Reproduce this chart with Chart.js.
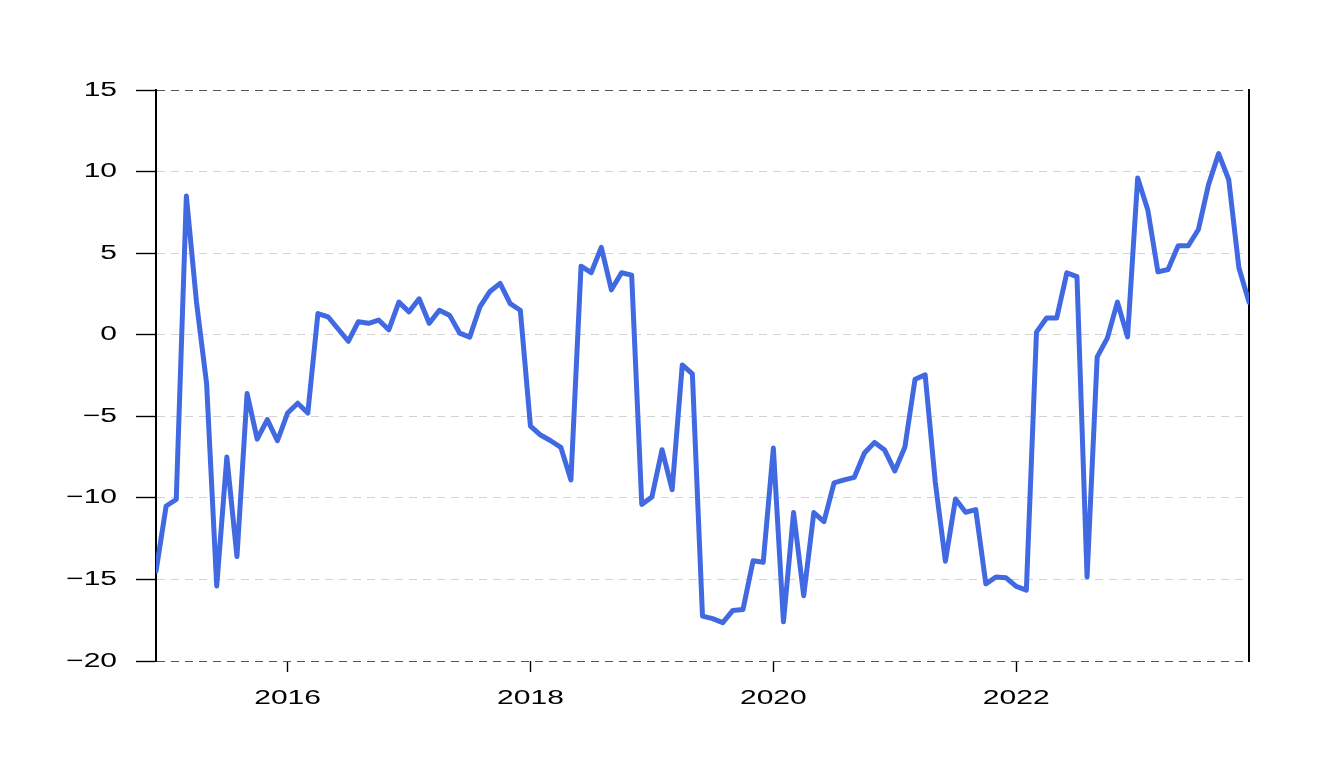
<!DOCTYPE html>
<html>
<head>
<meta charset="utf-8">
<script src="https://cdn.jsdelivr.net/npm/chart.js@4.4.0/dist/chart.umd.min.js"></script>
<style>
  html, body { margin: 0; padding: 0; background: #ffffff; }
  #wrap { width: 1329px; height: 775px; }
</style>
</head>
<body>
<div id="wrap"><canvas id="c" width="1329" height="775"></canvas></div>
<script>
// ---- data (monthly, Dec 2014 .. Dec 2023) ----
const months = [
  "2014-12",
  "2015-01","2015-02","2015-03","2015-04","2015-05","2015-06","2015-07","2015-08","2015-09","2015-10","2015-11","2015-12",
  "2016-01","2016-02","2016-03","2016-04","2016-05","2016-06","2016-07","2016-08","2016-09","2016-10","2016-11","2016-12",
  "2017-01","2017-02","2017-03","2017-04","2017-05","2017-06","2017-07","2017-08","2017-09","2017-10","2017-11","2017-12",
  "2018-01","2018-02","2018-03","2018-04","2018-05","2018-06","2018-07","2018-08","2018-09","2018-10","2018-11","2018-12",
  "2019-01","2019-02","2019-03","2019-04","2019-05","2019-06","2019-07","2019-08","2019-09","2019-10","2019-11","2019-12",
  "2020-01","2020-02","2020-03","2020-04","2020-05","2020-06","2020-07","2020-08","2020-09","2020-10","2020-11","2020-12",
  "2021-01","2021-02","2021-03","2021-04","2021-05","2021-06","2021-07","2021-08","2021-09","2021-10","2021-11","2021-12",
  "2022-01","2022-02","2022-03","2022-04","2022-05","2022-06","2022-07","2022-08","2022-09","2022-10","2022-11","2022-12",
  "2023-01","2023-02","2023-03","2023-04","2023-05","2023-06","2023-07","2023-08","2023-09","2023-10","2023-11","2023-12"
];
const values = [
  -14.5,
  -10.5, -10.1, 8.5, 2.0, -3.0, -15.4, -7.5, -13.6, -3.6, -6.4, -5.2, -6.5,
  -4.8, -4.2, -4.8, 1.3, 1.1, 0.35, -0.4, 0.8, 0.7, 0.9, 0.3, 2.0,
  1.4, 2.2, 0.7, 1.5, 1.2, 0.1, -0.15, 1.7, 2.65, 3.15, 1.9, 1.5,
  -5.6, -6.15, -6.5, -6.9, -8.9, 4.2, 3.8, 5.35, 2.75, 3.8, 3.65, -10.4,
  -9.95, -7.05, -9.5, -1.85, -2.4, -17.25, -17.4, -17.65, -16.9, -16.85, -13.85, -13.95,
  -6.95, -17.6, -10.9, -16.0, -10.9, -11.45, -9.08, -8.9, -8.74, -7.25, -6.6, -7.07,
  -8.35, -6.88, -2.73, -2.46, -9.03, -13.88, -10.07, -10.88, -10.72, -15.27, -14.85, -14.9,
  -15.43, -15.66, 0.16, 1.02, 1.02, 3.79, 3.56, -14.85, -1.36, -0.21, 2.0, -0.13,
  9.6, 7.65, 3.85, 4.0, 5.45, 5.45, 6.45, 9.2, 11.1, 9.5, 4.1, 2.0
];
const yTickValues = [-20, -15, -10, -5, 0, 5, 10, 15];
const xTickYears = [2016, 2018, 2020, 2022];

// ---- helpers ----
function monthToYear(s) {
  const [y, m] = s.split("-").map(Number);
  return y + (m - 1) / 12;
}
const points = months.map((m, i) => ({ x: monthToYear(m), y: values[i] }));
const xMin = monthToYear(months[0]);
const xMax = monthToYear(months[months.length - 1]);

const LABEL_FONT = { family: "'Liberation Sans', Arial, sans-serif", size: 20 };
const TEXT_STRETCH = 1.5;

// labels in the reference are drawn horizontally stretched
const stretchTextPlugin = {
  id: 'stretchText',
  beforeDraw(chart) {
    const ctx = chart.ctx;
    if (ctx.__stretched) return;
    const orig = ctx.fillText.bind(ctx);
    ctx.fillText = function (t, x, y) {
      ctx.save();
      ctx.translate(x, y);
      ctx.scale(TEXT_STRETCH, 1);
      orig(t, 0, 0);
      ctx.restore();
    };
    ctx.__stretched = true;
  }
};

new Chart(document.getElementById('c'), {
  type: 'line',
  data: {
    datasets: [{
      data: points,
      borderColor: '#4169E1',
      borderWidth: 5,
      pointRadius: 0,
      tension: 0,
      borderJoinStyle: 'round',
      borderCapStyle: 'round',
      fill: false
    }]
  },
  options: {
    responsive: false,
    animation: false,
    devicePixelRatio: 1,
    layout: { padding: { top: 90, left: 0, right: 0, bottom: 0 } },
    plugins: { legend: { display: false }, tooltip: { enabled: false }, title: { display: false } },
    scales: {
      x: {
        type: 'linear',
        min: xMin,
        max: xMax,
        afterBuildTicks(scale) { scale.ticks = xTickYears.map(v => ({ value: v })); },
        afterFit(scale) { scale.height = 114; },
        grid: {
          display: true,
          drawOnChartArea: false,
          drawTicks: true,
          tickLength: 11,
          tickColor: '#000000',
          tickWidth: 1.4
        },
        border: { display: false },
        ticks: {
          autoSkip: false,
          maxRotation: 0,
          padding: 14,
          color: '#000000',
          font: LABEL_FONT,
          callback: v => String(v)
        }
      },
      y: {
        type: 'linear',
        position: 'left',
        min: -20,
        max: 15,
        afterBuildTicks(scale) { scale.ticks = yTickValues.map(v => ({ value: v })); },
        afterFit(scale) { scale.width = 156; },
        grid: {
          display: true,
          drawOnChartArea: true,
          drawTicks: true,
          tickLength: 20,
          tickColor: '#000000',
          tickWidth: 1.4,
          tickBorderDash: [],
          lineWidth: 1,
          color: c => (c.tick && (c.tick.value === 15 || c.tick.value === -20)) ? '#555555' : '#d3d3d3'
        },
        border: { display: true, color: '#000000', width: 2, dash: [8, 6] },
        ticks: {
          padding: 19,
          color: '#000000',
          font: LABEL_FONT,
          callback: v => (v < 0 ? '\u2212' + Math.abs(v) : String(v))
        }
      },
      yRight: {
        type: 'linear',
        position: 'right',
        min: -20,
        max: 15,
        afterFit(scale) { scale.width = 80; },
        grid: { display: false },
        border: { display: true, color: '#000000', width: 2 },
        ticks: { display: false }
      }
    }
  },
  plugins: [stretchTextPlugin]
});
</script>
</body>
</html>
